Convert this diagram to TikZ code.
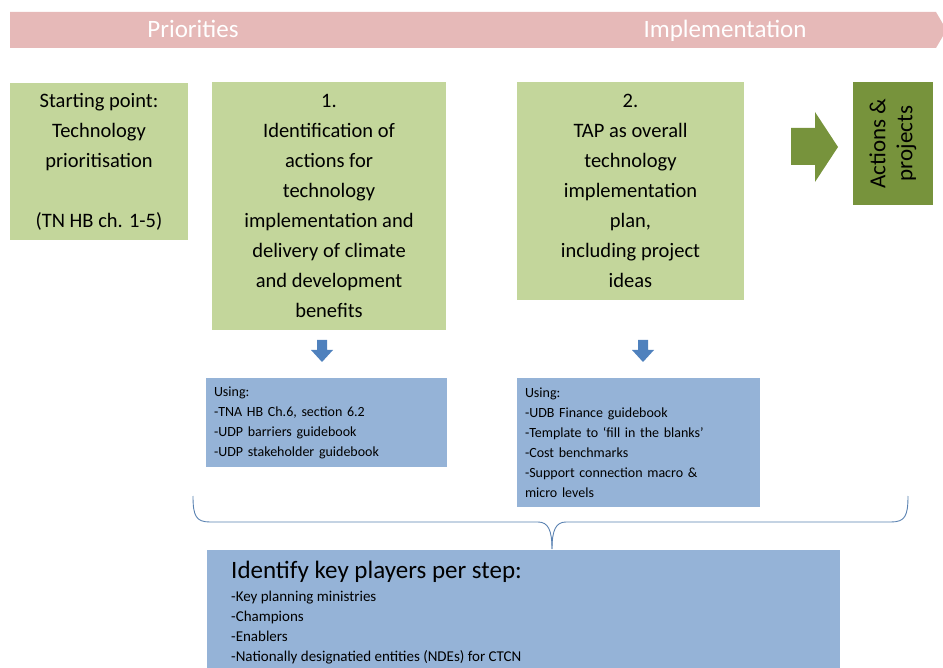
\documentclass[tikz,border=0pt]{standalone}
\usepackage{fontspec}
\setmainfont{Carlito}
\definecolor{lgreen}{HTML}{C3D69B}
\definecolor{dgreen}{HTML}{77933C}
\definecolor{lblue}{HTML}{95B3D7}
\definecolor{dblue}{HTML}{4F81BD}
\definecolor{lpink}{HTML}{E6B9B8}
\tikzset{
  gbox/.style={fill=lgreen, draw=none, align=center, inner sep=0pt,
    font=\fontsize{20.5}{30}\selectfont},
  bbox/.style={fill=lblue, draw=none, align=left, inner sep=0pt,
    font=\fontsize{14}{20}\selectfont},
  bannertext/.style={text=white, anchor=base, font=\fontsize{25}{28}\selectfont},
}
\begin{document}
\begin{tikzpicture}[x=1pt,y=-1pt]
\useasboundingbox (0,0) rectangle (943,668);
% banner
\fill[lpink] (10,12) -- (936,12) -- (943,24) -- (943,36) -- (936,48) -- (10,48) -- cycle;
\node[bannertext] (prio) at (193,38) {Priorities};
\node[bannertext] (impl) at (725,38) {Implementation};
% green boxes
\node[gbox, minimum width=178, minimum height=157] (start) at (99,161.5)
  {Starting point:\\Technology\\prioritisation\\[30pt](TN HB ch. 1-5)};
\node[gbox, minimum width=234, minimum height=248] (step1) at (329,206)
  {1.\\Identification of\\actions for\\technology\\implementation and\\delivery of climate\\and development\\benefits};
\node[gbox, minimum width=227, minimum height=218] (step2) at (630.5,191)
  {2.\\TAP as overall\\technology\\implementation\\plan,\\including project\\ideas};
% big arrow
\fill[dgreen] (791,128) -- (815,128) -- (815,112) -- (838,147) -- (815,182) -- (815,165) -- (791,165) -- cycle;
% actions box
\node[fill=dgreen, minimum width=80, minimum height=123, inner sep=0pt] (actbox) at (893,143.5) {};
\node[rotate=90, align=center, font=\fontsize{23}{27}\selectfont] (acttext) at (actbox.center) {Actions \&\\projects};
% small arrows
\fill[dblue] (317,340) -- (327,340) -- (327,350) -- (333,350) -- (322,362) -- (311,350) -- (317,350) -- cycle;
\fill[dblue] (638,340) -- (648,340) -- (648,350) -- (654,350) -- (643,362) -- (632,350) -- (638,350) -- cycle;
% blue boxes
\node[bbox, minimum width=241, minimum height=89, text width=225] (use1) at (326.5,422.5)
  {Using:\\-TNA HB Ch.6, section 6.2\\-UDP barriers guidebook\\-UDP stakeholder guidebook};
\node[bbox, minimum width=243, minimum height=129, text width=227] (use2) at (638.5,442.5)
  {Using:\\-UDB Finance guidebook\\-Template to `fill in the blanks'\\-Cost benchmarks\\-Support connection macro \&\\micro levels};
% brace
\coordinate (bl) at (193,496);
\coordinate (br) at (908,496);
\coordinate (btip) at (552,549);
\draw[dblue!80!gray, line width=0.9pt]
  (bl) .. controls (193,516) and (196,522) .. (210,522)
  -- (538,522) .. controls (548,522) and (552,530) .. (btip);
\draw[dblue!80!gray, line width=0.9pt]
  (br) .. controls (908,516) and (905,522) .. (891,522)
  -- (566,522) .. controls (556,522) and (552,530) .. (btip);
% bottom box
\node[fill=lblue, anchor=north west, minimum width=633, minimum height=130, inner sep=0pt] (players) at (207,550) {};
\node[anchor=north west, align=left, inner sep=0pt, font=\fontsize{15}{20}\selectfont] (playtext) at (231,561)
  {{\fontsize{25}{24}\selectfont Identify key players per step:}\\[3pt]
   -Key planning ministries\\-Champions\\-Enablers\\-Nationally designatied entities (NDEs) for CTCN};
\end{tikzpicture}
\end{document}
